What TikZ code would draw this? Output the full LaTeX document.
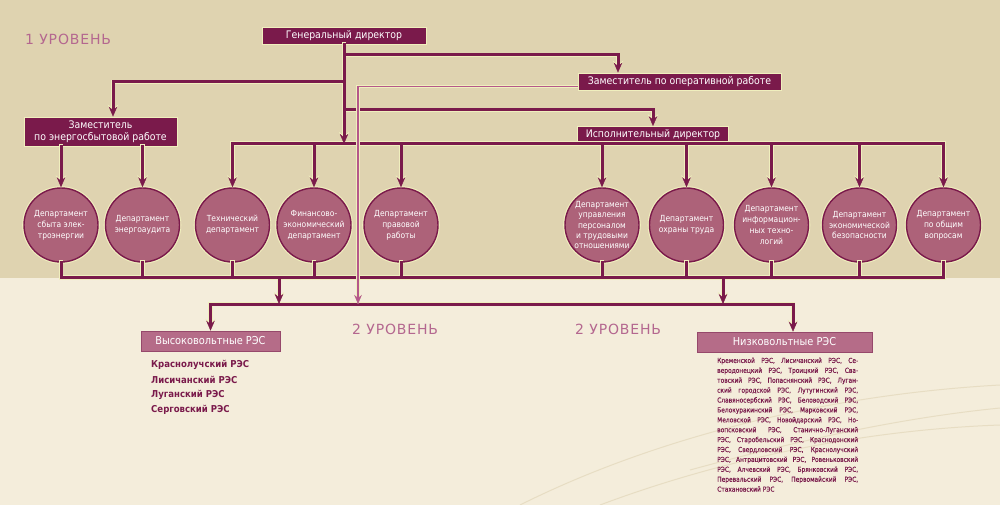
\documentclass[tikz,border=0pt]{standalone}
\usepackage{fontspec}
\setmainfont{DejaVu Sans Condensed}
\newfontfamily\levelfont{DejaVu Sans}[LetterSpace=6]
\newfontfamily\smallfont{DejaVu Sans Condensed}[FakeStretch=0.95, FakeBold=0.4]
\usetikzlibrary{positioning,arrows.meta}

\definecolor{plum}{HTML}{7A1A4B}
\definecolor{rose}{HTML}{AD6279}
\definecolor{halo}{HTML}{F0EFBE}
\definecolor{pinkline}{HTML}{B5588A}
\definecolor{pinkbox}{HTML}{B56C88}
\definecolor{pinkedge}{HTML}{96486B}
\definecolor{levelpink}{HTML}{B4678F}
\definecolor{bgtop}{HTML}{DFD3B0}
\definecolor{bgbottom}{HTML}{F4EDDB}
\definecolor{swirlcol}{HTML}{E7DDC3}

\begin{document}
\begin{tikzpicture}[x=1pt, y=-1pt,
    headbox/.style={rectangle, fill=plum, draw=halo, line width=0.7pt, text=white, inner sep=0pt, align=center, font=\fontsize{10.4}{12}\selectfont},
    deptnode/.style={circle, fill=rose, draw=plum, line width=1.4pt, preaction={draw=halo, line width=3.6pt}, minimum size=74pt, inner sep=0pt, text=white, align=center, font=\fontsize{8.4}{10.9}\selectfont},
    resbox/.style={rectangle, fill=pinkbox, draw=pinkedge, line width=0.6pt, text=white, inner sep=0pt, font=\fontsize{10.9}{12}\selectfont},
    reslist/.style={anchor=west, text=plum, inner sep=0pt, minimum height=14.7pt, font=\fontsize{9.5}{11}\bfseries\selectfont},
    leveltext/.style={anchor=west, text=levelpink, inner sep=0pt, font=\levelfont\fontsize{14}{15}\selectfont},
    halo/.style={draw=halo, line width=4.8pt, line cap=rect, >={Stealth[length=12pt, width=10.5pt, inset=4pt, line width=1pt]}},
    wire/.style={draw=plum, line width=3pt, line cap=rect, >={Stealth[length=10pt, width=8.5pt, inset=3.5pt, line width=0.4pt]}},
    pinkwire/.style={draw=pinkline, line width=1.9pt, preaction={draw=halo, line width=3.2pt}, >={Stealth[length=9pt, width=7.5pt, inset=3pt, line width=0.4pt]}},
    swirl/.style={draw=swirlcol, line width=1pt}
  ]
  \useasboundingbox (0,0) rectangle (1000,505);
  \fill[bgtop] (0,0) rectangle (1000,278);
  \fill[bgbottom] (0,278) rectangle (1000,505);
  \draw[swirl] (520,505) .. controls (650,440) and (820,395) .. (1000,385);
  \draw[swirl] (600,505) .. controls (720,460) and (860,430) .. (1000,425);
  \draw[swirl] (690,470) .. controls (800,440) and (900,418) .. (1000,408);

  % level captions
  \node[leveltext] (lev1) at (25,39) {1 УРОВЕНЬ};
  \node[leveltext] (lev2a) at (352,329) {2 УРОВЕНЬ};
  \node[leveltext] (lev2b) at (575,329) {2 УРОВЕНЬ};

  % management boxes
  \node[headbox, minimum width=164pt, minimum height=17pt] (gen) at (344,35.5) {Генеральный директор};
  \node[headbox, minimum width=203pt, minimum height=17pt] (zop) at (679.5,81.5) {Заместитель по оперативной работе};
  \node[headbox, minimum width=153pt, minimum height=29pt] (zen) at (100.5,131.5) {Заместитель\\по энергосбытовой работе};
  \node[headbox, minimum width=151pt, minimum height=17pt] (exe) at (653,135) {Исполнительный директор};

  % departments
  \node[deptnode] (d1) at (61,225) {Департамент\\сбыта элек-\\троэнергии};
  \node[deptnode] (d2) at (142.5,225) {Департамент\\энергоаудита};
  \node[deptnode] (d3) at (232.5,225) {Технический\\департамент};
  \node[deptnode] (d4) at (314,225) {Финансово-\\экономический\\департамент};
  \node[deptnode] (d5) at (401,225) {Департамент\\правовой\\работы};
  \node[deptnode, font=\fontsize{8.4}{10.3}\selectfont] (d6) at (602,225) {Департамент\\управления\\персоналом\\и трудовыми\\отношениями};
  \node[deptnode] (d7) at (686.5,225) {Департамент\\охраны труда};
  \node[deptnode] (d8) at (771.5,225) {Департамент\\информацион-\\ных техно-\\логий};
  \node[deptnode] (d9) at (859.5,225) {Департамент\\экономической\\безопасности};
  \node[deptnode] (d10) at (943.5,225) {Департамент\\по общим\\вопросам};

  % second level
  \node[resbox, minimum width=139pt, minimum height=20pt] (hv) at (210.5,341) {Высоковольтные РЭС};
  \node[resbox, minimum width=175pt, minimum height=20pt] (lv) at (784.5,342) {Низковольтные РЭС};

  \node[reslist] (r1) at (151,365) {Краснолучский РЭС};
  \node[reslist] (r2) [below right=0pt and 0pt of r1.south west] {Лисичанский РЭС};
  \node[reslist] (r3) [below right=0pt and 0pt of r2.south west] {Луганский РЭС};
  \node[reslist] (r4) [below right=0pt and 0pt of r3.south west] {Серговский РЭС};

  \node[anchor=north west, inner sep=0pt, text width=141pt, align=justify, text=plum,
        font=\smallfont\fontsize{6.9}{9.9}\selectfont] (lvlist) at (717,357.5) {%
    Кременской РЭС, Лисичанский РЭС, Се-\linebreak
    веродонецкий РЭС, Троицкий РЭС, Сва-\linebreak
    товский РЭС, Попаснянский РЭС, Луган-\linebreak
    ский городской РЭС, Лутугинский РЭС,\linebreak
    Славяносербский РЭС, Беловодский РЭС,\linebreak
    Белокуракинский РЭС, Марковский РЭС,\linebreak
    Меловской РЭС, Новойдарский РЭС, Но-\linebreak
    вопсковский РЭС, Станично-Луганский\linebreak
    РЭС, Старобельский РЭС, Краснодонский\linebreak
    РЭС, Свердловский РЭС, Краснолучский\linebreak
    РЭС, Антрацитовский РЭС, Ровеньковский\linebreak
    РЭС, Алчевский РЭС, Брянковский РЭС,\linebreak
    Перевальский РЭС, Первомайский РЭС,\linebreak
    Стахановский РЭС};

  % junction points
  \coordinate (fork1) at (344,55);
  \coordinate (fork2) at (344,82);
  \coordinate (fork3) at (344,110);
  \coordinate (midbus) at (0,277.5);
  \coordinate (lowbus) at (0,304);
  \coordinate (m1) at (279,277.5);
  \coordinate (m2) at (723,277.5);
  \coordinate (zopin) at ([xshift=-61.5pt]zop.north);
  \coordinate (zenin) at ([xshift=12.5pt]zen.north);
  \coordinate (lvin) at ([xshift=8.5pt]lv.north);

  % connectors: light outline first, then the line itself
  \foreach \pass in {halo, wire} {
    \draw[\pass, ->] (gen) -- (gen |- exe.south);
    \draw[\pass, ->] (fork1) -| (zopin);
    \draw[\pass, ->] (fork2) -| (zenin);
    \draw[\pass, ->] (fork3) -| (exe.north);
    \draw[\pass] (d3 |- exe.south) -- (d10 |- exe.south);
    \foreach \d in {d3, d4, d5, d6, d7, d8, d9, d10}
      \draw[\pass, ->] (\d |- exe.south) -- (\d.north);
    \foreach \d in {d1, d2}
      \draw[\pass, ->] (\d |- zen.south) -- (\d.north);
    \draw[\pass] (d1 |- midbus) -- (d10 |- midbus);
    \foreach \d in {d1, d2, d3, d4, d5, d6, d7, d8, d9, d10}
      \draw[\pass] (\d.south) -- (\d |- midbus);
    \draw[\pass, ->] (m1) -- (m1 |- lowbus);
    \draw[\pass, ->] (m2) -- (m2 |- lowbus);
    \draw[\pass] (hv.north |- lowbus) -- (lvin |- lowbus);
    \draw[\pass, ->] (hv.north |- lowbus) -- (hv.north);
    \draw[\pass, ->] (lvin |- lowbus) -- (lvin);
  }
  \draw[pinkwire, ->] ([yshift=-5pt]zop.west) -| (358,304);
\end{tikzpicture}
\end{document}
